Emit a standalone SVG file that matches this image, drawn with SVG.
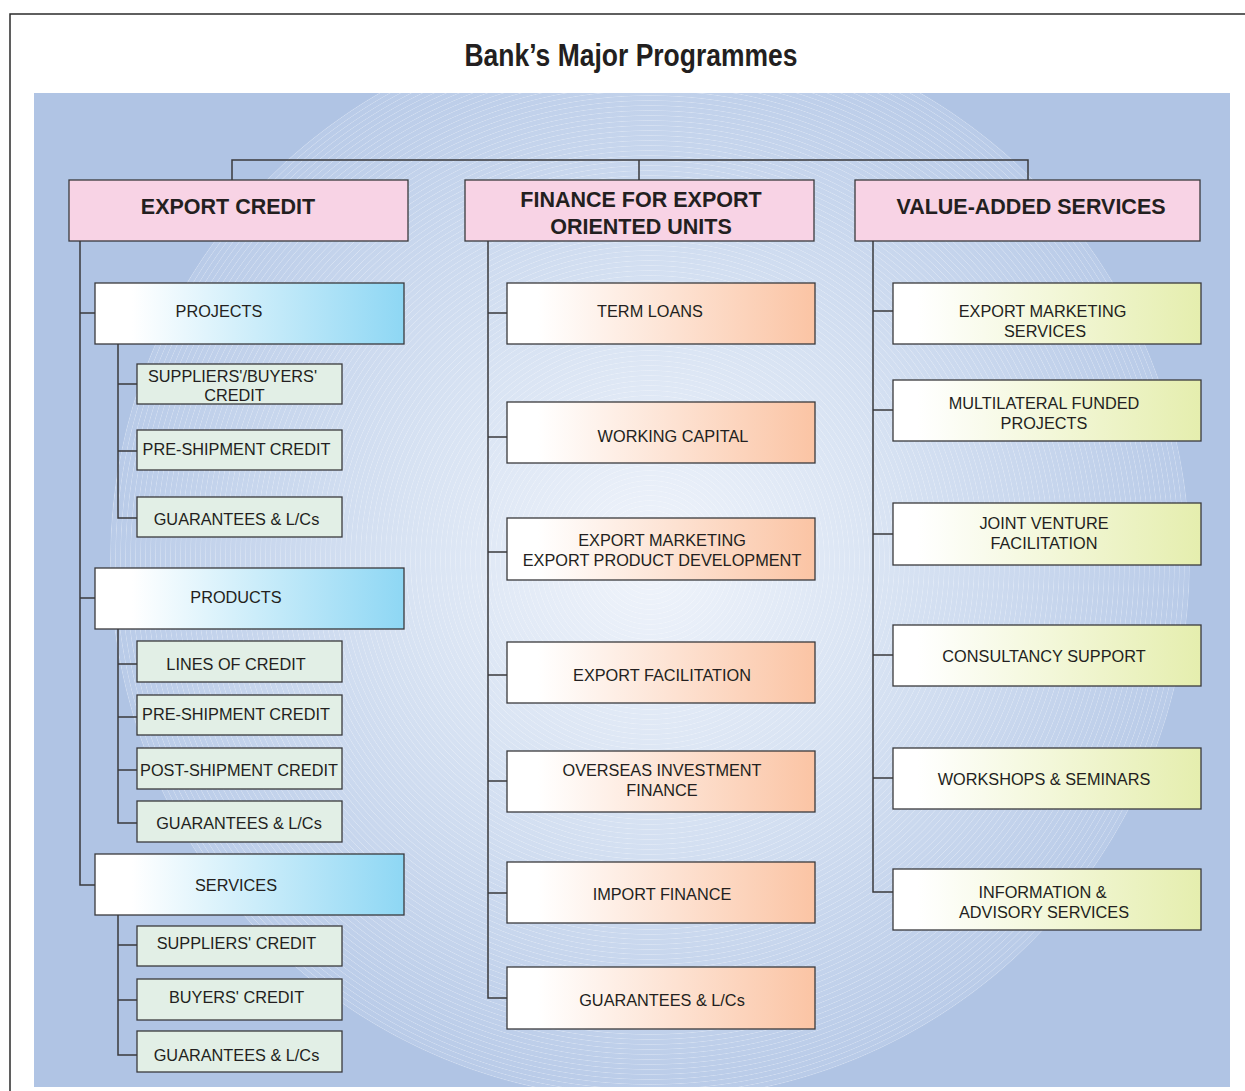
<svg xmlns="http://www.w3.org/2000/svg" width="1245" height="1091" viewBox="0 0 1245 1091">
<defs>
<style>
.t{font-family:"Liberation Sans",Arial,sans-serif;font-size:16.3px;fill:#231f20;text-anchor:middle}
.h{font-family:"Liberation Sans",Arial,sans-serif;font-size:21.5px;font-weight:bold;fill:#231f20;text-anchor:middle}
.box{stroke:#3a3a3c;stroke-width:1.3}
.hdr{fill:#f8d3e5}
.blue{fill:url(#gBlue)}
.green{fill:#e2efe6}
.peach{fill:url(#gPeach)}
.yel{fill:url(#gYel)}
.ln{fill:none;stroke:#3a3a3c;stroke-width:1.5}
</style>
<linearGradient id="gBlue" x1="0" y1="0" x2="1" y2="0">
<stop offset="0" stop-color="#ffffff"/><stop offset="0.12" stop-color="#ffffff"/><stop offset="1" stop-color="#8ed7f4"/>
</linearGradient>
<linearGradient id="gPeach" x1="0" y1="0" x2="1" y2="0">
<stop offset="0" stop-color="#ffffff"/><stop offset="0.1" stop-color="#ffffff"/><stop offset="1" stop-color="#fbc4a4"/>
</linearGradient>
<linearGradient id="gYel" x1="0" y1="0" x2="1" y2="0">
<stop offset="0" stop-color="#ffffff"/><stop offset="0.08" stop-color="#ffffff"/><stop offset="1" stop-color="#e5eeae"/>
</linearGradient>
<radialGradient id="gDisc" gradientUnits="userSpaceOnUse" cx="650" cy="560" r="540">
<stop offset="0" stop-color="#f0f4fb"/><stop offset="0.45" stop-color="#d8e3f3"/><stop offset="1" stop-color="#b9cbe8"/>
</radialGradient>
<radialGradient id="gRings" gradientUnits="userSpaceOnUse" cx="650" cy="560" r="5" spreadMethod="repeat">
<stop offset="0" stop-color="#ffffff" stop-opacity="0"/><stop offset="0.75" stop-color="#ffffff" stop-opacity="0"/><stop offset="0.88" stop-color="#ffffff" stop-opacity="0.55"/><stop offset="1" stop-color="#ffffff" stop-opacity="0"/>
</radialGradient>
<clipPath id="cp"><rect x="34" y="93" width="1196" height="994"/></clipPath>
</defs>
<rect x="0" y="0" width="1245" height="1091" fill="#ffffff"/>
<path d="M10,1091 V14 H1245" fill="none" stroke="#2b2b2b" stroke-width="1.5"/>
<text x="631" y="66" font-family="'Liberation Sans Narrow','Liberation Sans',Arial,sans-serif" font-size="32" font-weight="bold" fill="#231f20" text-anchor="middle" textLength="333" lengthAdjust="spacingAndGlyphs">Bank’s Major Programmes</text>
<g id="background" clip-path="url(#cp)">
<rect x="34" y="93" width="1196" height="994" fill="#b0c4e4"/>
<circle cx="650" cy="560" r="540" fill="url(#gDisc)"/>
<circle cx="650" cy="560" r="540" fill="url(#gRings)" opacity="0.6"/>
</g>
<g id="connectors">
<path class="ln" d="M232,180 V160 H1028 V180 M639,160 V180"/>
<path class="ln" d="M80,241 V885 H95 M80,313 H95 M80,598 H95"/>
<path class="ln" d="M118,344 V518 H137 M118,384 H137 M118,451 H137"/>
<path class="ln" d="M118,629 V823 H137 M118,664 H137 M118,717 H137 M118,770 H137"/>
<path class="ln" d="M118,915 V1055 H137 M118,945 H137 M118,1000 H137"/>
<path class="ln" d="M488,241 V998 H507 M488,313 H507 M488,437 H507 M488,552 H507 M488,675 H507 M488,781 H507 M488,893 H507"/>
<path class="ln" d="M873,241 V892 H893 M873,311 H893 M873,410 H893 M873,534 H893 M873,655 H893 M873,778 H893"/>
</g>
<g id="export-credit"><rect class="box hdr" x="69" y="180" width="339" height="61"/><text class="h" x="228" y="214">EXPORT CREDIT</text></g>
<g id="finance-eou"><rect class="box hdr" x="465" y="180" width="349" height="61"/><text class="h" x="641" y="207">FINANCE FOR EXPORT</text><text class="h" x="641" y="234">ORIENTED UNITS</text></g>
<g id="value-added"><rect class="box hdr" x="855" y="180" width="345" height="61"/><text class="h" x="1031" y="214">VALUE-ADDED SERVICES</text></g>

<g id="projects"><rect class="box blue" x="95" y="283" width="309" height="61"/><text class="t" x="219" y="317">PROJECTS</text></g>
<g id="proj-sb-credit"><rect class="box green" x="137" y="364" width="205" height="40"/><text class="t" x="232.5" y="382">SUPPLIERS'/BUYERS'</text><text class="t" x="234.5" y="401">CREDIT</text></g>
<g id="proj-preship"><rect class="box green" x="137" y="430" width="205" height="40"/><text class="t" x="236.5" y="455">PRE-SHIPMENT CREDIT</text></g>
<g id="proj-guar"><rect class="box green" x="137" y="497" width="205" height="40"/><text class="t" x="236.5" y="525">GUARANTEES &amp; L/Cs</text></g>

<g id="products"><rect class="box blue" x="95" y="568" width="309" height="61"/><text class="t" x="236" y="603">PRODUCTS</text></g>
<g id="prod-loc"><rect class="box green" x="137" y="641" width="205" height="41"/><text class="t" x="236" y="670">LINES OF CREDIT</text></g>
<g id="prod-preship"><rect class="box green" x="137" y="695" width="205" height="40"/><text class="t" x="236" y="720">PRE-SHIPMENT CREDIT</text></g>
<g id="prod-postship"><rect class="box green" x="137" y="748" width="205" height="41"/><text class="t" x="239" y="776">POST-SHIPMENT CREDIT</text></g>
<g id="prod-guar"><rect class="box green" x="137" y="801" width="205" height="41"/><text class="t" x="239" y="829">GUARANTEES &amp; L/Cs</text></g>

<g id="services"><rect class="box blue" x="95" y="854" width="309" height="61"/><text class="t" x="236" y="891">SERVICES</text></g>
<g id="serv-suppliers"><rect class="box green" x="137" y="926" width="205" height="40"/><text class="t" x="236.5" y="949">SUPPLIERS' CREDIT</text></g>
<g id="serv-buyers"><rect class="box green" x="137" y="979" width="205" height="41"/><text class="t" x="236.5" y="1003">BUYERS' CREDIT</text></g>
<g id="serv-guar"><rect class="box green" x="137" y="1031" width="205" height="41"/><text class="t" x="236.5" y="1061">GUARANTEES &amp; L/Cs</text></g>

<g id="term-loans"><rect class="box peach" x="507" y="283" width="308" height="61"/><text class="t" x="650" y="317">TERM LOANS</text></g>
<g id="working-capital"><rect class="box peach" x="507" y="402" width="308" height="61"/><text class="t" x="673" y="442">WORKING CAPITAL</text></g>
<g id="export-marketing"><rect class="box peach" x="507" y="518" width="308" height="62"/><text class="t" x="662" y="546">EXPORT MARKETING</text><text class="t" x="662" y="566">EXPORT PRODUCT DEVELOPMENT</text></g>
<g id="export-facilitation"><rect class="box peach" x="507" y="642" width="308" height="61"/><text class="t" x="662" y="681">EXPORT FACILITATION</text></g>
<g id="overseas"><rect class="box peach" x="507" y="751" width="308" height="61"/><text class="t" x="662" y="776">OVERSEAS INVESTMENT</text><text class="t" x="662" y="796">FINANCE</text></g>
<g id="import-finance"><rect class="box peach" x="507" y="862" width="308" height="61"/><text class="t" x="662" y="900">IMPORT FINANCE</text></g>
<g id="eou-guar"><rect class="box peach" x="507" y="967" width="308" height="62"/><text class="t" x="662" y="1006">GUARANTEES &amp; L/Cs</text></g>

<g id="ems"><rect class="box yel" x="893" y="283" width="308" height="61"/><text class="t" x="1042.5" y="317">EXPORT MARKETING</text><text class="t" x="1045" y="337">SERVICES</text></g>
<g id="multilateral"><rect class="box yel" x="893" y="380" width="308" height="61"/><text class="t" x="1044" y="409">MULTILATERAL FUNDED</text><text class="t" x="1044" y="429">PROJECTS</text></g>
<g id="joint-venture"><rect class="box yel" x="893" y="503" width="308" height="62"/><text class="t" x="1044" y="529">JOINT VENTURE</text><text class="t" x="1044" y="549">FACILITATION</text></g>
<g id="consultancy"><rect class="box yel" x="893" y="625" width="308" height="61"/><text class="t" x="1044" y="662">CONSULTANCY SUPPORT</text></g>
<g id="workshops"><rect class="box yel" x="893" y="748" width="308" height="61"/><text class="t" x="1044" y="785">WORKSHOPS &amp; SEMINARS</text></g>
<g id="information"><rect class="box yel" x="893" y="869" width="308" height="61"/><text class="t" x="1042.5" y="898">INFORMATION &amp;</text><text class="t" x="1044" y="918">ADVISORY SERVICES</text></g>
</svg>
